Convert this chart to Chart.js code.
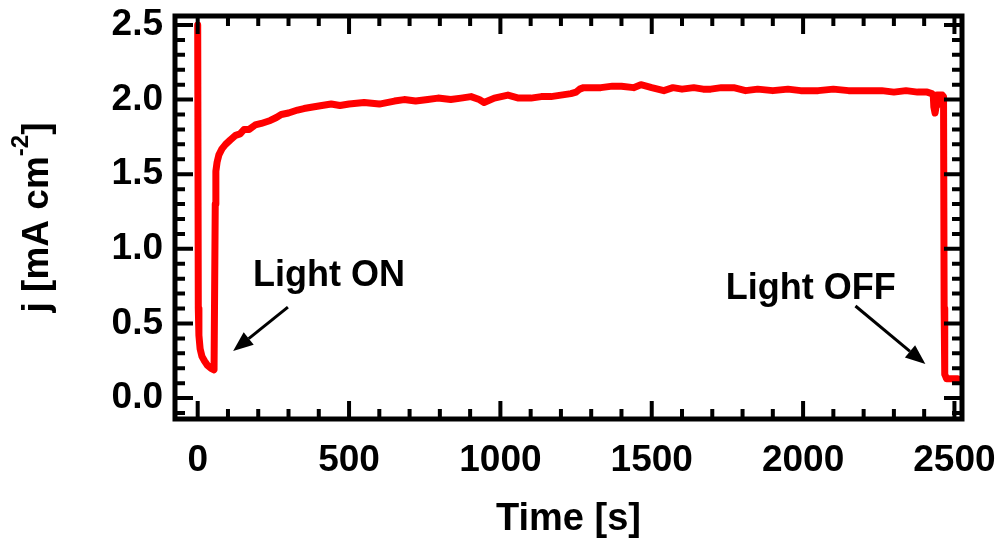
<!DOCTYPE html>
<html>
<head>
<meta charset="utf-8">
<title>Photocurrent transient</title>
<script src="https://cdn.jsdelivr.net/npm/chart.js@4.4.1/dist/chart.umd.min.js"></script>
<style>
  html, body { margin: 0; padding: 0; background: #fff; }
  #wrap { width: 997px; height: 539px; position: relative; }
</style>
</head>
<body>
<div id="wrap"><canvas id="jChart"></canvas></div>
<script>
// time [s] and current density j [mA cm-2]
const timeS = [
    0, 2, 4, 8, 14, 22, 32, 44, 54, 57,
    58, 60, 64, 70, 80, 92, 108, 125, 140, 153,
    170, 190, 210, 240, 260, 276, 300, 330, 351, 380,
    410, 441, 470, 500, 550, 600, 650, 682, 720, 760,
    794, 836, 870, 903, 930, 946, 980, 1025, 1060, 1101,
    1135, 1167, 1200, 1233, 1250, 1262, 1275, 1300, 1332, 1370,
    1400, 1440, 1464, 1500, 1540, 1570, 1600, 1639, 1670, 1695,
    1730, 1771, 1810, 1850, 1900, 1950, 1992, 2050, 2100, 2150,
    2213, 2260, 2300, 2340, 2378, 2410, 2425, 2430, 2432, 2436,
    2440, 2442, 2452, 2460, 2464, 2466, 2468, 2474, 2490, 2510
];
const currentJ = [
    2.50, 0.60, 0.42, 0.33, 0.28, 0.25, 0.22, 0.20, 0.19, 0.19,
    1.30, 1.52, 1.58, 1.63, 1.67, 1.70, 1.73, 1.76, 1.77, 1.80,
    1.80, 1.83, 1.84, 1.86, 1.88, 1.90, 1.91, 1.93, 1.94, 1.95,
    1.96, 1.97, 1.96, 1.97, 1.98, 1.97, 1.99, 2.00, 1.99, 2.00,
    2.01, 2.00, 2.01, 2.02, 2.00, 1.98, 2.01, 2.03, 2.01, 2.01,
    2.02, 2.02, 2.03, 2.04, 2.05, 2.07, 2.08, 2.08, 2.08, 2.09,
    2.09, 2.08, 2.10, 2.08, 2.06, 2.08, 2.07, 2.08, 2.07, 2.07,
    2.08, 2.08, 2.06, 2.07, 2.06, 2.07, 2.06, 2.06, 2.07, 2.06,
    2.06, 2.06, 2.05, 2.06, 2.05, 2.05, 2.04, 2.03, 1.95, 1.91,
    1.96, 2.03, 2.03, 2.03, 2.02, 0.60, 0.16, 0.13, 0.13, 0.13
];

const xTickValues = [0, 500, 1000, 1500, 2000, 2500];
const yTickValues = [0.0, 0.5, 1.0, 1.5, 2.0, 2.5];

const FONT = '"Liberation Sans", Arial, sans-serif';

// labels with arrows, placed in data units
const notes = [
    { text: 'Light ON',  tx: 434,  ty: 0.82, from: [298, 0.61],  to: [117, 0.315] },
    { text: 'Light OFF', tx: 2025, ty: 0.73, from: [2173, 0.617], to: [2404, 0.228] }
];

function arrow(ctx, x1, y1, x2, y2) {
    const ang = Math.atan2(y2 - y1, x2 - x1);
    const head = 20, half = 8;
    const bx = x2 - head * Math.cos(ang), by = y2 - head * Math.sin(ang);
    ctx.beginPath();
    ctx.moveTo(x1, y1);
    ctx.lineTo(bx, by);
    ctx.stroke();
    ctx.beginPath();
    ctx.moveTo(x2, y2);
    ctx.lineTo(bx + half * Math.sin(ang), by - half * Math.cos(ang));
    ctx.lineTo(bx - half * Math.sin(ang), by + half * Math.cos(ang));
    ctx.closePath();
    ctx.fill();
}

const frameAndNotes = {
    id: 'frameAndNotes',
    afterDatasetsDraw(chart) {
        const ctx = chart.ctx;
        const a = chart.chartArea;
        const x = chart.scales.x, y = chart.scales.y;
        ctx.save();
        ctx.strokeStyle = '#000';
        ctx.fillStyle = '#000';
        ctx.lineCap = 'butt';

        // inward ticks on all four sides
        ctx.lineWidth = 4;
        ctx.beginPath();
        for (let i = 0; i <= 25; i++) {
            const v = i * 100;
            if (v < x.min || v > x.max) continue;
            const px = x.getPixelForValue(v);
            const len = v % 500 === 0 ? 18 : 10;
            ctx.moveTo(px, a.bottom); ctx.lineTo(px, a.bottom - len);
            ctx.moveTo(px, a.top); ctx.lineTo(px, a.top + len);
        }
        for (let i = -1; i <= 25; i++) {
            const v = i / 10;
            if (v < y.min || v > y.max) continue;
            const py = y.getPixelForValue(v);
            const len = i % 5 === 0 ? 18 : 10;
            ctx.moveTo(a.left, py); ctx.lineTo(a.left + len, py);
            ctx.moveTo(a.right, py); ctx.lineTo(a.right - len, py);
        }
        ctx.stroke();

        ctx.lineWidth = 5;
        ctx.strokeRect(a.left, a.top, a.right - a.left, a.bottom - a.top);

        // annotations
        ctx.font = 'bold 36px ' + FONT;
        ctx.textAlign = 'center';
        ctx.textBaseline = 'middle';
        ctx.lineWidth = 3;
        notes.forEach(n => {
            ctx.fillText(n.text, x.getPixelForValue(n.tx), y.getPixelForValue(n.ty));
            arrow(ctx,
                x.getPixelForValue(n.from[0]), y.getPixelForValue(n.from[1]),
                x.getPixelForValue(n.to[0]), y.getPixelForValue(n.to[1]));
        });

        // axis titles
        ctx.font = 'bold 38px ' + FONT;
        ctx.fillText('Time [s]', (a.left + a.right) / 2, 520);

        ctx.translate(38, (a.top + a.bottom) / 2);
        ctx.rotate(-Math.PI / 2);
        const main = 'j [mA cm', sup = '-2', end = ']';
        ctx.font = 'bold 37px ' + FONT;
        const w1 = ctx.measureText(main).width, w3 = ctx.measureText(end).width;
        ctx.font = 'bold 24px ' + FONT;
        const w2 = ctx.measureText(sup).width;
        let cx = -(w1 + w2 + w3) / 2;
        ctx.textAlign = 'left';
        ctx.font = 'bold 37px ' + FONT;
        ctx.fillText(main, cx, 0);
        cx += w1;
        ctx.font = 'bold 24px ' + FONT;
        ctx.fillText(sup, cx, -17);
        cx += w2;
        ctx.font = 'bold 37px ' + FONT;
        ctx.fillText(end, cx, 0);
        ctx.restore();
    }
};

const points = timeS.map((t, i) => ({ x: t, y: currentJ[i] }));

new Chart(document.getElementById('jChart').getContext('2d'), {
    type: 'scatter',
    data: {
        datasets: [{
            label: 'j',
            data: points,
            showLine: true,
            borderColor: '#ff0000',
            backgroundColor: '#ff0000',
            borderWidth: 7,
            borderJoinStyle: 'round',
            borderCapStyle: 'round',
            pointRadius: 0,
            tension: 0
        }]
    },
    options: {
        responsive: true,
        maintainAspectRatio: false,
        animation: false,
        layout: { padding: { top: 16, right: 35, left: 0, bottom: 0 } },
        plugins: { legend: { display: false }, tooltip: { enabled: false } },
        scales: {
            x: {
                type: 'linear',
                min: -75,
                max: 2525,
                afterFit: s => { s.height = 120; s.paddingLeft = 0; s.paddingRight = 0; },
                afterBuildTicks: s => { s.ticks = xTickValues.map(v => ({ value: v })); },
                grid: { display: false, drawTicks: false },
                border: { display: false },
                ticks: {
                    color: '#000',
                    padding: 20,
                    maxRotation: 0,
                    font: { family: FONT, size: 37, weight: 'bold' },
                    callback: v => String(v)
                }
            },
            y: {
                type: 'linear',
                min: -0.14,
                max: 2.56,
                afterFit: s => { s.width = 175; s.paddingTop = 0; s.paddingBottom = 0; },
                afterBuildTicks: s => { s.ticks = yTickValues.map(v => ({ value: v })); },
                grid: { display: false, drawTicks: false },
                border: { display: false },
                ticks: {
                    color: '#000',
                    padding: 12,
                    font: { family: FONT, size: 37, weight: 'bold' },
                    callback: v => v.toFixed(1)
                }
            }
        }
    },
    plugins: [frameAndNotes]
});
</script>
</body>
</html>
